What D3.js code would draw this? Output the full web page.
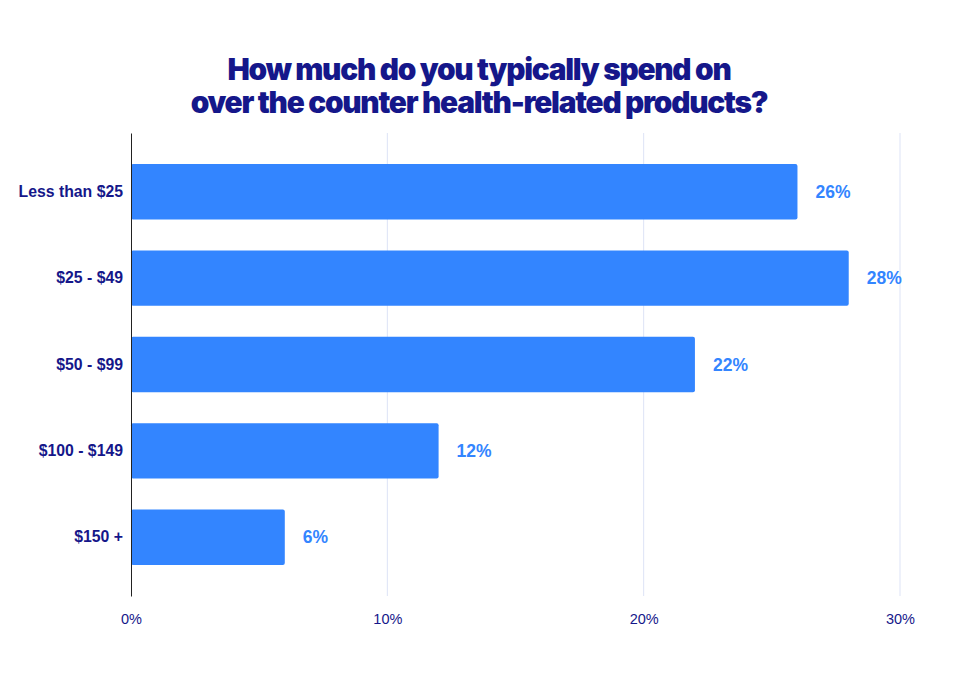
<!DOCTYPE html>
<html>
<head>
<meta charset="utf-8">
<script src="https://cdn.jsdelivr.net/npm/d3@7"></script>
<style>
  body { margin: 0; background: #fff; }
</style>
</head>
<body>
<div id="chart"></div>
<script>
// data
let categories = ["Less than $25", "$25 - $49", "$50 - $99", "$100 - $149", "$150 +"];
let values = [26, 28, 22, 12, 6];
let tickValues = [0, 10, 20, 30];
let titleLines = ["How much do you typically spend on", "over the counter health-related products?"];

let svgWidth = 960;
let svgHeight = 680;
let bodyFont = "'Liberation Sans', Arial, sans-serif";

let margin = { top: 133, right: 60, bottom: 84, left: 131 };
let width = svgWidth - margin.left - margin.right;
let height = svgHeight - margin.top - margin.bottom;

let svg = d3.select("#chart")
  .append("svg")
  .attr("width", svgWidth)
  .attr("height", svgHeight);

// title
svg.append("g")
  .selectAll("text")
  .data(titleLines)
  .join("text")
  .attr("x", 479)
  .attr("y", (d, i) => 80 + i * 33)
  .attr("text-anchor", "middle")
  .style("font-family", "Inter, sans-serif")
  .style("font-weight", 900)
  .style("font-size", "29.8px")
  .style("letter-spacing", "-1.25px")
  .attr("fill", "#15178a")
  .text(d => d);

let chartGroup = svg.append("g")
  .attr("transform", `translate(${margin.left}, ${margin.top})`);

let xScale = d3.scaleLinear()
  .domain([0, 30])
  .range([0, 769]);

let yScale = d3.scaleBand()
  .domain(categories)
  .range([0, height])
  .paddingInner(0.36)
  .paddingOuter(0.36);

// gridlines
chartGroup.append("g")
  .selectAll("line")
  .data(tickValues.slice(1))
  .join("line")
  .attr("x1", d => xScale(d))
  .attr("x2", d => xScale(d))
  .attr("y1", 0)
  .attr("y2", height)
  .attr("stroke", "#dde3f6")
  .attr("stroke-width", 1);

// x axis labels
let xAxis = chartGroup.append("g")
  .attr("transform", `translate(0, ${height})`)
  .call(d3.axisBottom(xScale).tickValues(tickValues).tickFormat(d => d + "%").tickSize(0).tickPadding(18));
xAxis.select(".domain").remove();
xAxis.selectAll("text")
  .attr("fill", "#15178a")
  .style("font-family", bodyFont)
  .style("font-size", "14.5px");

// bars
chartGroup.selectAll("rect")
  .data(values)
  .join("rect")
  .attr("x", 0)
  .attr("y", (d, i) => yScale(categories[i]))
  .attr("width", d => xScale(d))
  .attr("height", yScale.bandwidth())
  .attr("rx", 2)
  .attr("fill", "#3385ff");

// value labels
chartGroup.selectAll(".value")
  .data(values)
  .join("text")
  .classed("value", true)
  .attr("x", d => xScale(d) + 18)
  .attr("y", (d, i) => yScale(categories[i]) + yScale.bandwidth() / 2)
  .attr("dy", "0.35em")
  .attr("fill", "#3385ff")
  .style("font-family", bodyFont)
  .style("font-weight", "bold")
  .style("font-size", "17.5px")
  .text(d => d + "%");

// y axis
let yAxis = chartGroup.append("g")
  .call(d3.axisLeft(yScale).tickSize(0).tickPadding(8));
yAxis.select(".domain")
  .attr("stroke", "#222")
  .attr("stroke-width", 1);
yAxis.selectAll("text")
  .attr("fill", "#15178a")
  .style("font-family", bodyFont)
  .style("font-weight", "bold")
  .style("font-size", "15.8px");
</script>
</body>
</html>
